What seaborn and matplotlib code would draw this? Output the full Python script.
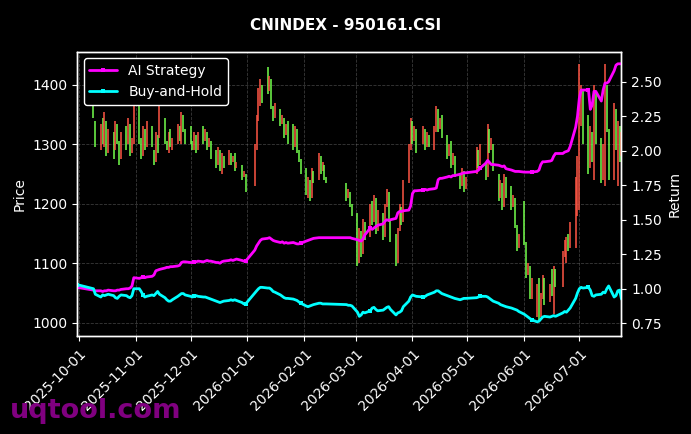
import pandas as pd
import numpy as np
import matplotlib.pyplot as plt
import matplotlib.dates as mdates
import seaborn as sns

# trading calendar (weekdays minus exchange holidays)
start_date = "2025-09-30"
end_date = "2026-07-24"
holidays = ["2025-10-01", "2025-10-02", "2025-10-03", "2025-10-06", "2025-10-07", "2025-10-08",
            "2026-01-01", "2026-01-02",
            "2026-02-16", "2026-02-17", "2026-02-18", "2026-02-19", "2026-02-20", "2026-02-23",
            "2026-04-06", "2026-05-01", "2026-05-04", "2026-05-05", "2026-06-19"]

opens = [1398, 1415, 1340, 1290, 1345, 1295, 1340, 1285, 1320, 1290, 1335, 1305, 1275, 1330, 1300, 1335, 1285, 1300,
         1380, 1310, 1280, 1325, 1295, 1330, 1290, 1270, 1315, 1310,
         1345, 1305, 1285, 1325, 1290, 1300, 1330, 1300, 1350, 1325,
         1330, 1305, 1290, 1315, 1290, 1330, 1305, 1320, 1295, 1305,
         1290, 1265, 1290, 1250, 1280, 1265, 1285, 1270, 1285, 1260, 1265, 1245, 1250,
         1230, 1290, 1340, 1365, 1400, 1430, 1390, 1410, 1365, 1345,
         1360, 1335, 1345, 1315, 1340, 1335, 1295, 1325, 1290, 1275,
         1260, 1210, 1240, 1210, 1255, 1240, 1280, 1255, 1265, 1245,
         1235, 1210, 1220, 1200, 1185, 1100, 1155, 1115, 1170,
         1145, 1205, 1170, 1210, 1155, 1185, 1145, 1195, 1220, 1175,
         1150, 1100, 1155, 1195, 1170, 1235, 1290, 1340, 1305, 1325,
         1300, 1325, 1295, 1315, 1290, 1320, 1360, 1325, 1350,
         1315, 1280, 1305, 1265, 1280, 1250, 1230, 1255, 1225,
         1250, 1290, 1265, 1270, 1245, 1325, 1290, 1300,
         1250, 1210, 1235, 1195, 1245, 1230, 1195, 1210, 1165, 1125,
         1205, 1135, 1080, 1095, 1040, 1010, 1075, 1010, 1040, 1075,
         1035, 1090, 1015, 1090, 1060, 1110, 1100, 1150, 1125,
         1125, 1180, 1190, 1330, 1390, 1350, 1260, 1320, 1240, 1390,
         1310, 1240, 1230, 1400, 1325, 1240, 1360, 1230, 1330, 1280]

closes = [1430, 1345, 1295, 1335, 1300, 1355, 1280, 1325, 1275, 1340, 1300, 1265, 1320, 1290, 1345, 1280, 1310, 1385,
          1300, 1275, 1330, 1290, 1340, 1295, 1265, 1320, 1285, 1365,
          1300, 1290, 1320, 1295, 1310, 1335, 1305, 1355, 1320, 1300,
          1300, 1290, 1320, 1285, 1320, 1300, 1325, 1290, 1310, 1275,
          1260, 1295, 1255, 1285, 1260, 1290, 1265, 1280, 1255, 1270, 1240, 1255, 1220,
          1300, 1350, 1395, 1410, 1370, 1385, 1415, 1360, 1340, 1370,
          1330, 1350, 1310, 1335, 1300, 1290, 1330, 1285, 1270, 1250,
          1215, 1245, 1205, 1260, 1235, 1285, 1250, 1270, 1240, 1235,
          1205, 1225, 1195, 1180, 1095, 1160, 1110, 1175, 1140,
          1200, 1165, 1215, 1150, 1190, 1140, 1200, 1225, 1170, 1135,
          1095, 1160, 1200, 1165, 1240, 1300, 1345, 1300, 1330, 1285,
          1330, 1290, 1320, 1295, 1330, 1365, 1320, 1345, 1310,
          1275, 1300, 1260, 1285, 1245, 1225, 1260, 1220, 1245,
          1295, 1260, 1300, 1240, 1335, 1285, 1310, 1255,
          1205, 1240, 1190, 1250, 1210, 1190, 1215, 1160, 1120, 1150,
          1130, 1075, 1100, 1040, 1075, 1065, 1005, 1050, 1080, 1030,
          1065, 1045, 1095, 1060, 1120, 1140, 1145, 1120, 1170,
          1245, 1280, 1435, 1400, 1300, 1250, 1330, 1270, 1400, 1300,
          1235, 1300, 1435, 1320, 1240, 1370, 1290, 1340, 1270, 1320]

ai_strategy = [1.01, 0.99, 0.985, 0.985, 0.98, 0.985, 0.985, 0.99, 0.985, 0.985, 0.99, 0.99, 0.995, 1.0, 1.0, 1.005, 1.02, 1.08,
               1.075, 1.08, 1.085, 1.08, 1.085, 1.09, 1.10, 1.13, 1.135, 1.14,
               1.15, 1.155, 1.155, 1.16, 1.16, 1.165, 1.17, 1.19, 1.195, 1.195,
               1.19, 1.19, 1.195, 1.195, 1.20, 1.195, 1.20, 1.205, 1.20, 1.20,
               1.19, 1.19, 1.185, 1.195, 1.20, 1.205, 1.21, 1.205, 1.21, 1.215, 1.205, 1.20, 1.20,
               1.28, 1.31, 1.33, 1.35, 1.36, 1.365, 1.37, 1.36, 1.35, 1.345,
               1.335, 1.34, 1.33, 1.335, 1.33, 1.335, 1.33, 1.325, 1.325, 1.33,
               1.345, 1.35, 1.355, 1.36, 1.365, 1.37, 1.37, 1.37, 1.37, 1.37,
               1.37, 1.37, 1.37, 1.365, 1.355, 1.35, 1.345, 1.36, 1.39,
               1.44, 1.43, 1.44, 1.45, 1.46, 1.47, 1.49, 1.50, 1.495, 1.50,
               1.51, 1.55, 1.56, 1.56, 1.565, 1.57, 1.60, 1.69, 1.71, 1.71,
               1.715, 1.72, 1.715, 1.72, 1.725, 1.73, 1.79, 1.80, 1.80,
               1.81, 1.815, 1.81, 1.82, 1.82, 1.83, 1.835, 1.84, 1.84,
               1.85, 1.86, 1.875, 1.91, 1.93, 1.915, 1.90, 1.90,
               1.895, 1.89, 1.885, 1.89, 1.87, 1.86, 1.855, 1.85, 1.85, 1.85,
               1.845, 1.845, 1.845, 1.845, 1.845, 1.85, 1.86, 1.90, 1.92, 1.92,
               1.925, 1.93, 1.96, 1.98, 1.98, 1.99, 1.995, 2.0, 2.03,
               2.17, 2.25, 2.38, 2.44, 2.44, 2.44, 2.30, 2.33, 2.43, 2.43,
               2.36, 2.44, 2.49, 2.49, 2.50, 2.58, 2.62, 2.63, 2.63, 2.63]

buy_hold = [1.03, 1.00, 0.96, 0.94, 0.955, 0.95, 0.955, 0.96, 0.95, 0.935, 0.93, 0.945, 0.955, 0.95, 0.94, 0.935, 0.95, 1.0,
            1.0, 0.98, 0.955, 0.94, 0.945, 0.955, 0.95, 0.965, 0.98, 0.96,
            0.935, 0.92, 0.91, 0.91, 0.92, 0.945, 0.955, 0.965, 0.965, 0.955,
            0.945, 0.94, 0.945, 0.95, 0.945, 0.94, 0.94, 0.935, 0.93, 0.925,
            0.91, 0.905, 0.90, 0.905, 0.91, 0.915, 0.92, 0.915, 0.92, 0.915, 0.90, 0.89, 0.89,
            0.97, 0.985, 1.0, 1.01, 1.01, 1.005, 1.005, 0.995, 0.98, 0.975,
            0.955, 0.945, 0.935, 0.93, 0.93, 0.925, 0.92, 0.915, 0.905, 0.895,
            0.875, 0.87, 0.875, 0.88, 0.885, 0.895, 0.895, 0.89, 0.89, 0.89,
            0.885, 0.88, 0.88, 0.875, 0.83, 0.80, 0.81, 0.83, 0.825,
            0.84, 0.86, 0.865, 0.85, 0.84, 0.845, 0.855, 0.865, 0.87, 0.85,
            0.81, 0.825, 0.83, 0.84, 0.87, 0.91, 0.94, 0.955, 0.95, 0.945,
            0.94, 0.945, 0.955, 0.96, 0.975, 0.985, 0.985, 0.975, 0.965,
            0.95, 0.945, 0.94, 0.935, 0.93, 0.92, 0.925, 0.93, 0.93,
            0.935, 0.94, 0.945, 0.945, 0.94, 0.93, 0.92, 0.91,
            0.895, 0.885, 0.88, 0.875, 0.87, 0.86, 0.855, 0.85, 0.845, 0.835,
            0.815, 0.805, 0.795, 0.785, 0.775, 0.76, 0.765, 0.78, 0.795, 0.80,
            0.795, 0.80, 0.805, 0.80, 0.825, 0.835, 0.83, 0.845, 0.86,
            0.93, 0.97, 1.0, 1.01, 1.005, 1.01, 0.99, 0.95, 0.945, 0.955,
            0.96, 0.975, 0.97, 1.0, 1.02, 0.94, 0.95, 0.985, 0.99, 0.925]

dates = pd.bdate_range(start_date, end_date)
dates = dates[~dates.isin(pd.to_datetime(holidays))]

df = pd.DataFrame({"date": dates, "open": opens, "close": closes,
                   "ai": ai_strategy, "bh": buy_hold})

sns.set_theme(style="dark")
plt.rcParams["font.family"] = ["DejaVu Sans"]

fig = plt.figure(figsize=(6.91, 4.34), dpi=100, facecolor="black")
ax = fig.add_axes([0.1114, 0.2247, 0.788, 0.6566])
ax.set_facecolor("black")

# candles: red up, green down
up = df["close"] >= df["open"]
cols = np.where(up, "#ff5544", "#74ff4c")
ax.vlines(df["date"], df[["open", "close"]].min(axis=1), df[["open", "close"]].max(axis=1),
          colors=cols, linewidth=1.1)
ax.set_ylim(977, 1456)
ax.set_xlim(df["date"].iloc[0], df["date"].iloc[-1])
ax.set_ylabel("Price", color="white", fontsize=10)
ax.grid(True, color="gray", linestyle="--", linewidth=0.6, alpha=0.45)

ax2 = ax.twinx()
sns.lineplot(data=df, x="date", y="ai", ax=ax2, color="#ff00ff", linewidth=2,
             marker="s", markersize=3, markevery=20, markeredgewidth=0, label="AI Strategy")
sns.lineplot(data=df, x="date", y="bh", ax=ax2, color="#00ffff", linewidth=2,
             marker="s", markersize=3, markevery=20, markeredgewidth=0, label="Buy-and-Hold")
ax2.set_ylim(0.654, 2.719)
ax2.set_yticks([0.75, 1.0, 1.25, 1.5, 1.75, 2.0, 2.25, 2.5])
ax2.set_ylabel("Return", color="white", fontsize=10)
ax2.set_xlabel("")
ax2.grid(False)

for a in (ax, ax2):
    a.tick_params(colors="white", labelsize=10, length=3.5, width=0.8, bottom=True, left=(a is ax), right=(a is ax2))
    for s in a.spines.values():
        s.set_color("white")
        s.set_linewidth(1.0)

ax.xaxis.set_major_locator(mdates.MonthLocator())
ax.xaxis.set_major_formatter(mdates.DateFormatter("%Y-%m-%d"))
plt.setp(ax.get_xticklabels(), rotation=45, ha="right", rotation_mode="anchor")

leg = ax2.legend(loc="upper left", fontsize=10, facecolor="black", edgecolor="white",
                 framealpha=1.0, borderpad=0.4, handlelength=2.0)
for t in leg.get_texts():
    t.set_color("white")

fig.suptitle("CNINDEX - 950161.CSI", color="white", fontsize=11, fontweight="bold", y=0.958)
fig.text(0.0145, 0.037, "uqtool.com", color="purple", fontsize=19.5, fontweight="bold", va="baseline")

fig.savefig("out.png", dpi=100, facecolor="black")
